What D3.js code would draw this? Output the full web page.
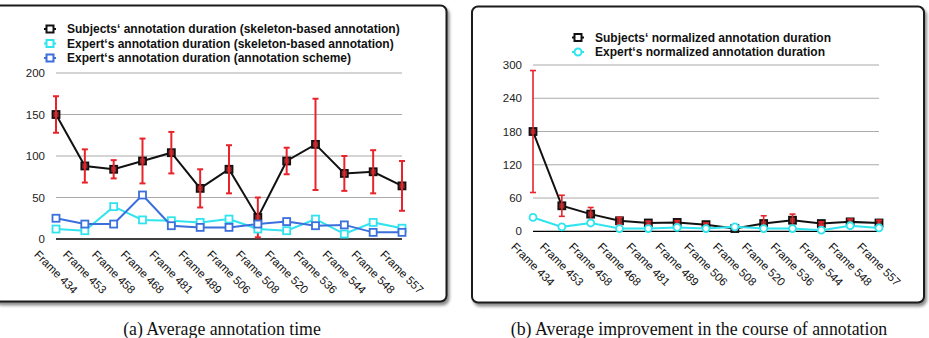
<!DOCTYPE html>
<html>
<head>
<meta charset="utf-8">
<script src="https://cdn.jsdelivr.net/npm/d3@7"></script>
<style>
	body { margin: 0; background: #fff; }
	svg { display: block; }
	.tick-y { font: 11.5px "Liberation Sans", Arial, sans-serif; fill: #222; }
	.tick-x { font: 11.5px "Liberation Sans", Arial, sans-serif; fill: #111; }
	.legend { font: bold 12px "Liberation Sans", Arial, sans-serif; fill: #111; }
	.caption { font: 17.8px "Liberation Serif", "Times New Roman", serif; fill: #111; }
</style>
</head>
<body>
<script>
(function() {

"use strict";

const FRAMES = ["Frame 434", "Frame 453", "Frame 458", "Frame 468", "Frame 481", "Frame 489",
	"Frame 506", "Frame 508", "Frame 520", "Frame 536", "Frame 544", "Frame 548", "Frame 557"];

// (a) average annotation time
const SUBJECTS_TIME     = [150, 88, 84, 94, 104, 61, 84, 26, 94, 114, 79, 81, 64];
const SUBJECTS_TIME_ERR = [ 22, 20, 11, 27,  25, 23, 29, 24, 16,  55, 21, 26, 30];
const EXPERT_SKELETON   = [ 12, 10, 39, 23,  22, 20, 24, 12, 10,  24,  6, 20, 13];
const EXPERT_SCHEME     = [ 25, 18, 18, 53,  16, 14, 14, 18, 21,  16, 17,  8,  8];
const TICKS_A = [0, 50, 100, 150, 200];

// (b) average improvement
const SUBJECTS_NORM     = [180, 46, 31, 19, 15, 16, 12, 5, 14, 20, 14, 17, 15];
const SUBJECTS_NORM_ERR = [110, 19, 12,  6,  3,  3,  3, 2, 14, 11,  3,  5,  5];
const EXPERT_NORM       = [ 25,  8, 15,  5,  5,  7,  5, 8,  5,  5,  2, 10,  6];
const TICKS_B = [0, 60, 120, 180, 240, 300];

const RED = "#e8232b";
const CYAN = "#2fe4ef";
const BLUE = "#3a6fdc";

let svg = d3.select("body").append("svg")
	.attr("width", 929)
	.attr("height", 338);

let defs = svg.append("defs");
let shadow = defs.append("filter")
	.attr("id", "shadow")
	.attr("x", "-5%").attr("y", "-5%")
	.attr("width", "115%").attr("height", "115%");
shadow.append("feDropShadow")
	.attr("dx", 2).attr("dy", 3)
	.attr("stdDeviation", 1.5)
	.attr("flood-color", "#000")
	.attr("flood-opacity", 0.45);

function marker(g, type, size) {
	if (type === "circle")
		return g.append("circle").attr("r", size / 2);
	return g.append("rect")
		.attr("x", -size / 2).attr("y", -size / 2)
		.attr("width", size).attr("height", size);
}

function drawPanel(options) {
	let box = options.box;
	svg.append("rect")
		.attr("x", box.x).attr("y", box.y)
		.attr("width", box.w).attr("height", box.h)
		.attr("rx", 6)
		.attr("fill", "#fff")
		.attr("stroke", "#1a1a1a")
		.attr("stroke-width", 2)
		.attr("filter", "url(#shadow)");

	let scale = {
		x: d3.scalePoint().domain(FRAMES).range(options.range.x),
		y: d3.scaleLinear().domain(options.domain.y).range(options.range.y),
	};

	let g = svg.append("g");

	// gridlines
	g.append("g")
		.selectAll("line")
		.data(options.ticks.filter(t => t > 0))
		.join("line")
			.attr("x1", options.range.x[0])
			.attr("x2", options.range.x[1])
			.attr("y1", d => scale.y(d))
			.attr("y2", d => scale.y(d))
			.attr("stroke", "#aaa")
			.attr("stroke-width", 1);

	g.append("line")
		.attr("x1", options.range.x[0])
		.attr("x2", options.range.x[1])
		.attr("y1", scale.y(0))
		.attr("y2", scale.y(0))
		.attr("stroke", "#000")
		.attr("stroke-width", 1.3);

	// y tick labels
	g.append("g")
		.selectAll("text")
		.data(options.ticks)
		.join("text")
			.attr("class", "tick-y")
			.attr("x", options.range.x[0] - 11)
			.attr("y", d => scale.y(d))
			.attr("dy", "0.35em")
			.attr("text-anchor", "end")
			.text(d => d);

	// x tick labels, rotated
	g.append("g")
		.selectAll("text")
		.data(FRAMES)
		.join("text")
			.attr("class", "tick-x")
			.attr("transform", d => `translate(${scale.x(d)}, ${scale.y(0) + 33}) rotate(45)`)
			.attr("text-anchor", "middle")
			.attr("dy", "0.35em")
			.text(d => d);

	let line = d3.line()
		.x((d, i) => scale.x(FRAMES[i]))
		.y(d => scale.y(d));

	for (let s of options.series) {
		g.append("path")
			.datum(s.values)
			.attr("d", line)
			.attr("fill", "none")
			.attr("stroke", s.color)
			.attr("stroke-width", 2);

		let pts = g.append("g")
			.selectAll("g")
			.data(s.values)
			.join("g")
				.attr("transform", (d, i) => `translate(${scale.x(FRAMES[i])}, ${scale.y(d)})`);
		marker(pts, s.marker, s.size)
			.attr("fill", s.fill)
			.attr("stroke", s.color)
			.attr("stroke-width", 1.8);

		if (s.error) {
			let bars = g.append("g")
				.attr("stroke", RED)
				.attr("stroke-width", s.errorWidth || 2)
				.selectAll("g")
				.data(s.values)
				.join("g")
					.attr("transform", (d, i) => `translate(${scale.x(FRAMES[i])}, 0)`);
			bars.append("line")
				.attr("y1", (d, i) => scale.y(d + s.error[i]))
				.attr("y2", (d, i) => scale.y(Math.max(0, d - s.error[i])));
			bars.append("line")
				.attr("x1", -3).attr("x2", 3)
				.attr("y1", (d, i) => scale.y(d + s.error[i]))
				.attr("y2", (d, i) => scale.y(d + s.error[i]));
			bars.append("line")
				.attr("x1", -3).attr("x2", 3)
				.attr("y1", (d, i) => scale.y(Math.max(0, d - s.error[i])))
				.attr("y2", (d, i) => scale.y(Math.max(0, d - s.error[i])));
		}
	}

	// legend
	let legend = g.append("g")
		.selectAll("g")
		.data(options.series)
		.join("g")
			.attr("transform", (d, i) => `translate(${options.legend.x}, ${options.legend.y + i * 14.5})`);
	legend.append("line")
		.attr("x1", -6).attr("x2", 6)
		.attr("stroke", d => d.color)
		.attr("stroke-width", 2);
	legend.each(function(d) {
		marker(d3.select(this), d.marker, 7)
			.attr("fill", "#fff")
			.attr("stroke", d.color)
			.attr("stroke-width", 2);
	});
	legend.append("text")
		.attr("class", "legend")
		.attr("x", 17)
		.attr("dy", "0.35em")
		.text(d => d.label);

	svg.append("text")
		.attr("class", "caption")
		.attr("x", options.caption.x)
		.attr("y", options.caption.y)
		.attr("text-anchor", "middle")
		.text(options.caption.text);
}

drawPanel({
	box: {x: -6, y: 5.5, w: 452.5, h: 296},
	range: {x: [56, 402], y: [239, 73]},
	domain: {y: [0, 200]},
	ticks: TICKS_A,
	legend: {x: 50, y: 29},
	caption: {x: 222, y: 335, text: "(a)  Average annotation time"},
	series: [
		{label: "Subjects‘ annotation duration (skeleton-based annotation)", values: SUBJECTS_TIME,
			error: SUBJECTS_TIME_ERR, color: "#111", fill: "#8c2b2b", marker: "square", size: 7},
		{label: "Expert‘s annotation duration (skeleton-based annotation)", values: EXPERT_SKELETON,
			color: CYAN, fill: "#fff", marker: "square", size: 7},
		{label: "Expert‘s annotation duration (annotation scheme)", values: EXPERT_SCHEME,
			color: BLUE, fill: "#fff", marker: "square", size: 7},
	],
});

drawPanel({
	box: {x: 472, y: 6.5, w: 452, h: 296},
	range: {x: [533, 879], y: [231.3, 65]},
	domain: {y: [0, 300]},
	ticks: TICKS_B,
	legend: {x: 578, y: 37.5},
	caption: {x: 699, y: 335, text: "(b)  Average improvement in the course of annotation"},
	series: [
		{label: "Subjects‘ normalized annotation duration", values: SUBJECTS_NORM,
			error: SUBJECTS_NORM_ERR, errorWidth: 1.6, color: "#111", fill: "#8c2b2b", marker: "square", size: 7},
		{label: "Expert‘s normalized annotation duration", values: EXPERT_NORM,
			color: CYAN, fill: "#fff", marker: "circle", size: 7},
	],
});

})();
</script>
</body>
</html>
